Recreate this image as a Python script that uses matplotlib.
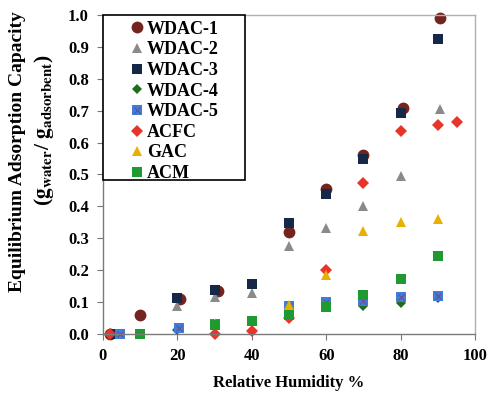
import matplotlib
matplotlib.use("Agg")
import matplotlib.pyplot as plt
from matplotlib.patches import Rectangle
from matplotlib.ticker import FormatStrFormatter, MultipleLocator

plt.rcParams["font.family"] = ["Liberation Serif", "DejaVu Serif"]
plt.rcParams["font.weight"] = "bold"
plt.rcParams["mathtext.fontset"] = "stix"

# Adsorption data: relative humidity (%) vs. equilibrium capacity (g/g)
wdac1_rh = [2, 10, 20.8, 31, 50, 60, 70, 80.5, 90.6]
wdac1_q = [0.0, 0.06, 0.11, 0.133, 0.32, 0.454, 0.562, 0.707, 0.99]

wdac2_rh = [3, 20, 30, 40, 50, 60, 70, 80, 90.5]
wdac2_q = [0.0, 0.086, 0.117, 0.128, 0.277, 0.332, 0.40, 0.496, 0.705]

wdac3_rh = [3, 20, 30, 40, 50, 60, 70, 80, 90]
wdac3_q = [0.0, 0.113, 0.138, 0.157, 0.349, 0.439, 0.548, 0.693, 0.925]

wdac4_rh = [4.5, 20, 30, 50, 60, 70, 80, 90]
wdac4_q = [0.0, 0.012, 0.025, 0.075, 0.085, 0.088, 0.098, 0.112]

wdac5_rh = [4.5, 20.5, 30, 50, 60, 70, 80, 90]
wdac5_q = [0.0, 0.018, 0.03, 0.088, 0.1, 0.104, 0.114, 0.12]

acfc_rh = [2, 30, 40, 50, 60, 70, 80, 90, 95]
acfc_q = [0.0, -0.002, 0.01, 0.05, 0.2, 0.474, 0.637, 0.655, 0.664]

gac_rh = [30, 50, 60, 70, 80, 90]
gac_q = [0.035, 0.09, 0.183, 0.323, 0.35, 0.36]

acm_rh = [10, 30, 40, 50, 60, 70, 80, 90]
acm_q = [0.0, 0.027, 0.04, 0.06, 0.085, 0.122, 0.172, 0.243]

fig = plt.figure(figsize=(4.97, 3.96), dpi=100)
ax = fig.add_axes([0.207, 0.157, 0.749, 0.805])

common = dict(linestyle="none", clip_on=False, markeredgewidth=0)
h1, = ax.plot(wdac1_rh, wdac1_q, marker="o", ms=8.5, color="#74241f", label="WDAC-1", **common)
h2, = ax.plot(wdac2_rh, wdac2_q, marker="^", ms=7, color="#8a8a8a", label="WDAC-2", **common)
h3, = ax.plot(wdac3_rh, wdac3_q, marker="s", ms=7.5, color="#152848", label="WDAC-3", **common)
h4, = ax.plot(wdac4_rh, wdac4_q, marker="D", ms=5.5, color="#1d6e1d", label="WDAC-4", **common)
h5, = ax.plot(wdac5_rh, wdac5_q, marker="s", ms=7.5, color="#3f7ed2", label="WDAC-5", **common)
h5x, = ax.plot(wdac5_rh, wdac5_q, marker="x", ms=5, color="#6a4aa8", linestyle="none",
               clip_on=False, markeredgewidth=0.8)
h6, = ax.plot(acfc_rh, acfc_q, marker="D", ms=5.8, color="#e8352a", label="ACFC", **common)
h7, = ax.plot(gac_rh, gac_q, marker="^", ms=7.5, color="#e8b000", label="GAC", **common)
h8, = ax.plot(acm_rh, acm_q, marker="s", ms=7.5, color="#1f9a30", label="ACM", **common)

ax.set_xlim(0, 100)
ax.set_ylim(0, 1.0)
ax.xaxis.set_major_locator(MultipleLocator(20))
ax.yaxis.set_major_locator(MultipleLocator(0.1))
ax.yaxis.set_major_formatter(FormatStrFormatter("%.1f"))
ax.tick_params(axis="both", direction="out", length=4, width=0.8, color="#777777",
               labelsize=12, pad=6)
for lbl in ax.get_xticklabels() + ax.get_yticklabels():
    lbl.set_fontweight("bold")

for side in ("left", "bottom"):
    ax.spines[side].set_color("#7a7a7a")
    ax.spines[side].set_linewidth(1.0)
for side in ("top", "right"):
    ax.spines[side].set_color("#b0b0b0")
    ax.spines[side].set_linewidth(1.0)

ax.set_xlabel("Relative Humidity %", fontsize=12, fontweight="bold", labelpad=8)

fig.text(0.036, 0.616, "Equilibrium Adsorption Capacity", rotation=90,
         ha="center", va="center", fontsize=14, fontweight="bold")
fig.text(0.088, 0.672,
         r"($\mathbf{g}_{\mathbf{water}}$/ $\mathbf{g}_{\mathbf{adsorbent}}$)",
         rotation=90, ha="center", va="center", fontsize=15.5)

# legend box with square black frame
box = Rectangle((0, 0.483), 0.382, 0.517, transform=ax.transAxes, facecolor="white",
                edgecolor="black", linewidth=1.2, clip_on=False, zorder=5)
ax.add_patch(box)

leg = ax.legend(handles=[h1, h2, h3, h4, (h5, h5x), h6, h7, h8],
                labels=["WDAC-1", "WDAC-2", "WDAC-3", "WDAC-4", "WDAC-5", "ACFC", "GAC", "ACM"],
                loc="upper left", bbox_to_anchor=(0.074, 0.982), borderaxespad=0,
                frameon=False,
                prop={"family": "Liberation Serif", "weight": "bold", "size": 13},
                handlelength=0.7, handletextpad=0.2, labelspacing=0.2,
                borderpad=0, markerscale=1.0)
leg.set_zorder(6)

fig.savefig("out.png", dpi=100)
